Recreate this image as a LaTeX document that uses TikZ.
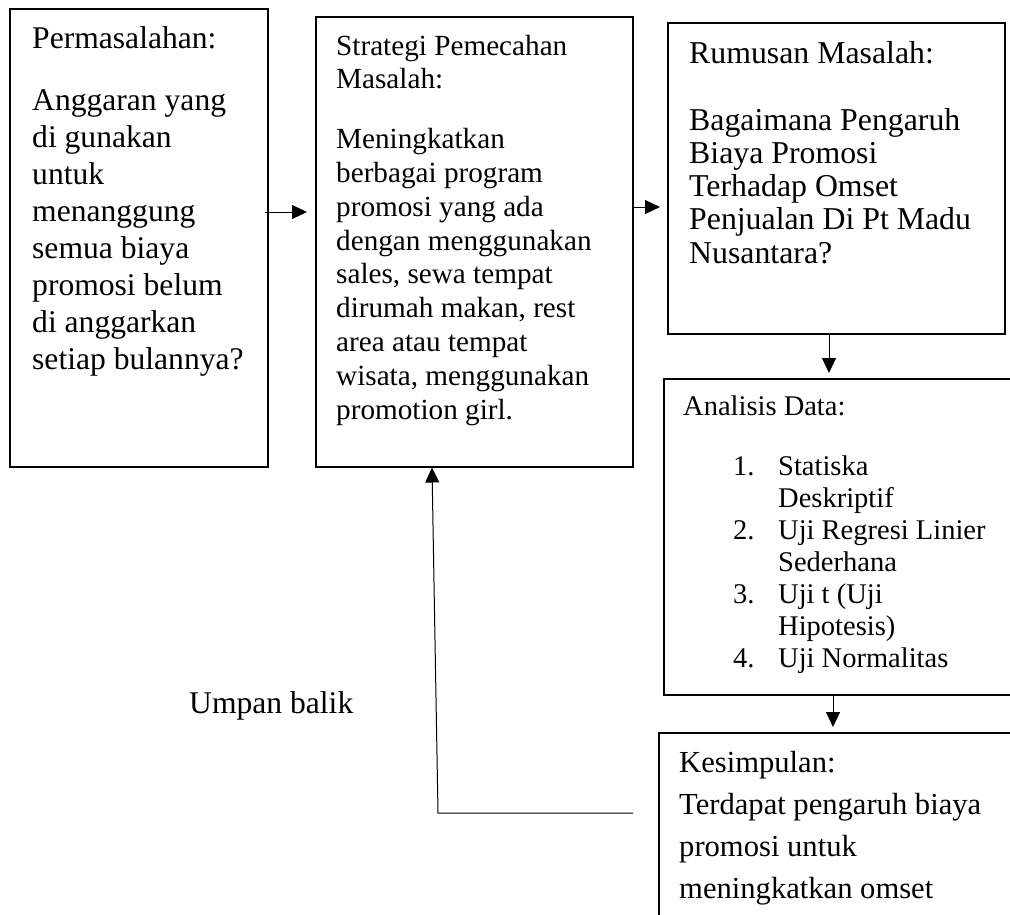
\documentclass[tikz,border=0pt]{standalone}
\usepackage{fontspec}
\setmainfont{Liberation Serif}
\usetikzlibrary{arrows.meta}
\begin{document}
\begin{tikzpicture}[x=1pt,y=-1pt,
  box/.style={draw=black, line width=1.5pt, rectangle, inner sep=0pt, anchor=north west},
  txt/.style={anchor=base west, inner sep=0pt},
  arr/.style={draw=black, line width=1pt, -{Triangle[length=15pt,width=14pt]}}]
\useasboundingbox (0,0) rectangle (1010,914);
\clip (0,0) rectangle (1010,914);
% boxes
\node[box, minimum width=258pt, minimum height=458pt] (b1) at (9,8) {};
\node[box, minimum width=317pt, minimum height=450pt] (b2) at (315,16) {};
\node[box, minimum width=337pt, minimum height=311pt] (b3) at (667,22) {};
\node[box, minimum width=367pt, minimum height=316pt] (b4) at (663,378) {};
\node[box, minimum width=367pt, minimum height=230pt] (b5) at (658,732) {};
% texts
\node[txt] (t1) at (32,48) {\parbox[t]{235pt}{\fontsize{31.6}{37}\selectfont
Permasalahan:\\[25pt]
Anggaran yang\\
di gunakan\\
untuk\\
menanggung\\
semua biaya\\
promosi belum\\
di anggarkan\\
setiap bulannya?}};
\node[txt] (t2) at (336,55) {\parbox[t]{295pt}{\fontsize{29.2}{33.5}\selectfont
Strategi Pemecahan\\
Masalah:\\[25.5pt]
\fontsize{29.2}{33.9}\selectfont
Meningkatkan\\
berbagai program\\
promosi yang ada\\
dengan menggunakan\\
sales, sewa tempat\\
dirumah makan, rest\\
area atau tempat\\
wisata, menggunakan\\
promotion girl.}};
\node[txt] (t3) at (689,63) {\parbox[t]{315pt}{\fontsize{31.8}{33.3}\selectfont
Rumusan Masalah:\\[33.7pt]
Bagaimana Pengaruh\\
Biaya Promosi\\
Terhadap Omset\\
Penjualan Di Pt Madu\\
Nusantara?}};
\node[txt] (t4) at (683,415) {\fontsize{28.5}{32}\selectfont Analisis Data:};
\node[txt] (t4b) at (733,475) {\parbox[t]{275pt}{\fontsize{28.5}{32}\selectfont
\makebox[45pt][l]{1.}Statiska\\
\hspace*{45pt}Deskriptif\\
\makebox[45pt][l]{2.}Uji Regresi Linier\\
\hspace*{45pt}Sederhana\\
\makebox[45pt][l]{3.}Uji t (Uji\\
\hspace*{45pt}Hipotesis)\\
\makebox[45pt][l]{4.}Uji Normalitas}};
\node[txt] (t5) at (679,772) {\parbox[t]{330pt}{\fontsize{30.6}{42}\selectfont
Kesimpulan:\\
Terdapat pengaruh biaya\\
promosi untuk\\
meningkatkan omset}};
\node[txt] (lbl) at (189,713) {\fontsize{31.6}{36}\selectfont Umpan balik};
% connectors
\coordinate (r1) at (0,212);
\coordinate (r2) at (0,207);
\coordinate (c3) at (829,0);
\coordinate (c4) at (833,0);
\coordinate (fb1) at (633,813);
\coordinate (fb2) at (438,813);
\coordinate (fb3) at (432,0);
\draw[arr, shorten >=8pt] ([xshift=-4pt]b1.east |- r1) -- (b2.west |- r1);
\draw[arr, shorten >=7pt] (b2.east |- r2) -- (b3.west |- r2);
\draw[arr, shorten >=5pt] (b3.south -| c3) -- (b4.north -| c3);
\draw[arr, shorten >=5pt] (b4.south -| c4) -- (b5.north -| c4);
\draw[arr] (fb1) -- (fb2) -- (b2.south -| fb3);
\end{tikzpicture}
\end{document}
